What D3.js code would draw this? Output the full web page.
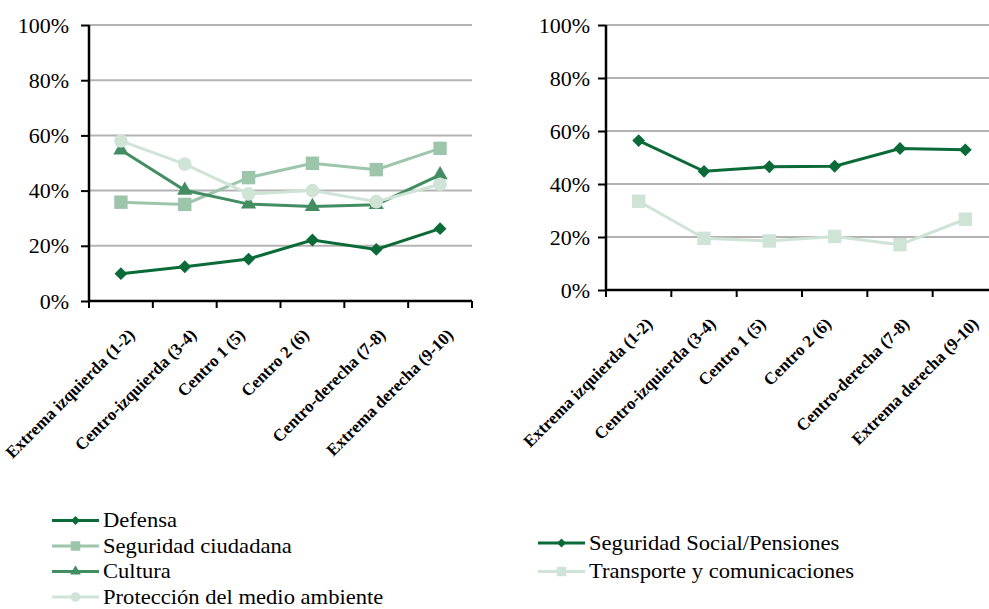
<!DOCTYPE html>
<html>
<head>
<meta charset="utf-8">
<script src="https://cdn.jsdelivr.net/npm/d3@7"></script>
</head>
<body style="margin:0;background:#fff">
<svg id="chart" width="989" height="609" font-family="Liberation Serif"></svg>
<script>
//categories shared by both panels
var categories = [
	"Extrema izquierda (1-2)",
	"Centro-izquierda (3-4)",
	"Centro 1 (5)",
	"Centro 2 (6)",
	"Centro-derecha (7-8)",
	"Extrema derecha (9-10)"
];

var yTicks = [0, 0.2, 0.4, 0.6, 0.8, 1];

//left panel series
var defensa = [0.099, 0.124, 0.152, 0.221, 0.187, 0.262];
var seguridadCiudadana = [0.358, 0.350, 0.447, 0.499, 0.476, 0.553];
var cultura = [0.547, 0.401, 0.351, 0.342, 0.349, 0.457];
var medioAmbiente = [0.580, 0.496, 0.388, 0.400, 0.360, 0.423];

//right panel series
var seguridadSocial = [0.564, 0.448, 0.465, 0.467, 0.534, 0.529];
var transporte = [0.335, 0.195, 0.185, 0.202, 0.171, 0.267];

var svg = d3.select("#chart");

function drawPanel(svg, series, x0, x1, yTop, yBottom, labelPad){
	var x = d3.scaleBand()
	.domain(categories)
	.range([x0, x1]);

	var y = d3.scaleLinear()
	.domain([0, 1])
	.range([yBottom, yTop]);

	//gridlines
	svg.append("g")
	.selectAll("line")
	.data(yTicks.slice(1))
	.enter()
	.append("line")
	.attr("x1", x0)
	.attr("x2", x1)
	.attr("y1", function(d){return y(d);})
	.attr("y2", function(d){return y(d);})
	.style("stroke", "#b3b3b3")
	.style("stroke-width", 2);

	//y axis
	var yAxis = d3.axisLeft(y)
	.tickValues(yTicks)
	.tickFormat(d3.format(".0%"))
	.tickSize(8)
	.tickPadding(labelPad);

	var yG = svg.append("g")
	.attr("transform", "translate(" + x0 + ",0)")
	.call(yAxis)
	.attr("font-family", "Liberation Serif")
	.attr("font-size", 22);
	yG.selectAll("text")
	.attr("fill", "#000");
	yG.select(".domain").remove();
	yG.selectAll(".tick line")
	.style("stroke", "#000")
	.style("stroke-width", 2);

	svg.append("line")
	.attr("x1", x0)
	.attr("x2", x0)
	.attr("y1", yTop)
	.attr("y2", yBottom)
	.style("stroke", "#000")
	.style("stroke-width", 2.5);

	//x axis, ticks on band edges
	var xAxisG = svg.append("g")
	.attr("transform", "translate(0," + yBottom + ")");

	xAxisG.append("line")
	.attr("x1", x0)
	.attr("x2", x1)
	.attr("y1", 0)
	.attr("y2", 0)
	.style("stroke", "#000")
	.style("stroke-width", 2.5);

	var edges = categories.map(function(c){return x(c);}).concat([x1]);
	xAxisG.selectAll("line.tk")
	.data(edges)
	.enter()
	.append("line")
	.attr("class", "tk")
	.attr("x1", function(d){return d;})
	.attr("x2", function(d){return d;})
	.attr("y1", 0)
	.attr("y2", 7)
	.style("stroke", "#000")
	.style("stroke-width", 2);

	//rotated labels, longer ones pushed a little to the right like excel does
	xAxisG.selectAll("text")
	.data(categories)
	.enter()
	.append("text")
	.attr("text-anchor", "end")
	.attr("font-size", 17)
	.attr("font-weight", "bold")
	.text(function(d){return d;})
	.attr("transform", function(d){
		var len = this.getComputedTextLength();
		var cx = x(d) + x.bandwidth() / 2 + 0.2 * (len - 90) - 2;
		return "translate(" + cx + ",35) rotate(-45)";
	});

	var line = d3.line()
	.x(function(d, i){return x(categories[i]) + x.bandwidth() / 2;})
	.y(function(d){return y(d);});

	series.forEach(function(s){
		svg.append("path")
		.datum(s.values)
		.attr("d", line)
		.style("fill", "none")
		.style("stroke", s.color)
		.style("stroke-width", 3);

		svg.append("g")
		.selectAll("path")
		.data(s.values)
		.enter()
		.append("path")
		.attr("d", d3.symbol().type(s.symbol).size(s.size))
		.attr("transform", function(d, i){
			var px = x(categories[i]) + x.bandwidth() / 2;
			return "translate(" + px + "," + y(d) + ")" + (s.rotate ? " rotate(45)" : "");
		})
		.style("fill", s.color);
	});
}

function drawLegend(svg, series, lx, ly, step){
	series.forEach(function(s, i){
		var g = svg.append("g")
		.attr("transform", "translate(" + lx + "," + (ly + i * step) + ")");
		g.append("line")
		.attr("x1", 0)
		.attr("x2", 47)
		.attr("y1", 0)
		.attr("y2", 0)
		.style("stroke", s.color)
		.style("stroke-width", 3);
		g.append("path")
		.attr("d", d3.symbol().type(s.symbol).size(s.size * 0.5))
		.attr("transform", "translate(23.5,0)" + (s.rotate ? " rotate(45)" : ""))
		.style("fill", s.color);
		//text in the original is a bit wide
		g.append("text")
		.attr("transform", "translate(51,6.5) scale(1.13,1)")
		.attr("font-size", 20)
		.text(s.name);
	});
}

var leftSeries = [
	{name: "Defensa", values: defensa, color: "#0b6b38", symbol: d3.symbolSquare, size: 82, rotate: true},
	{name: "Seguridad ciudadana", values: seguridadCiudadana, color: "#9cc5ab", symbol: d3.symbolSquare, size: 180},
	{name: "Cultura", values: cultura, color: "#438d63", symbol: d3.symbolTriangle, size: 100},
	{name: "Protección del medio ambiente", values: medioAmbiente, color: "#cfe4d7", symbol: d3.symbolCircle, size: 145}
];

var rightSeries = [
	{name: "Seguridad Social/Pensiones", values: seguridadSocial, color: "#0b6b38", symbol: d3.symbolSquare, size: 82, rotate: true},
	{name: "Transporte y comunicaciones", values: transporte, color: "#cfe4d7", symbol: d3.symbolSquare, size: 180}
];

drawPanel(svg, leftSeries, 89, 472, 25, 301, 12);
drawPanel(svg, rightSeries, 606, 998, 25, 290, 8);

drawLegend(svg, leftSeries, 52, 520.5, 25.5);
drawLegend(svg, rightSeries, 538, 543, 28.5);
</script>
</body>
</html>
